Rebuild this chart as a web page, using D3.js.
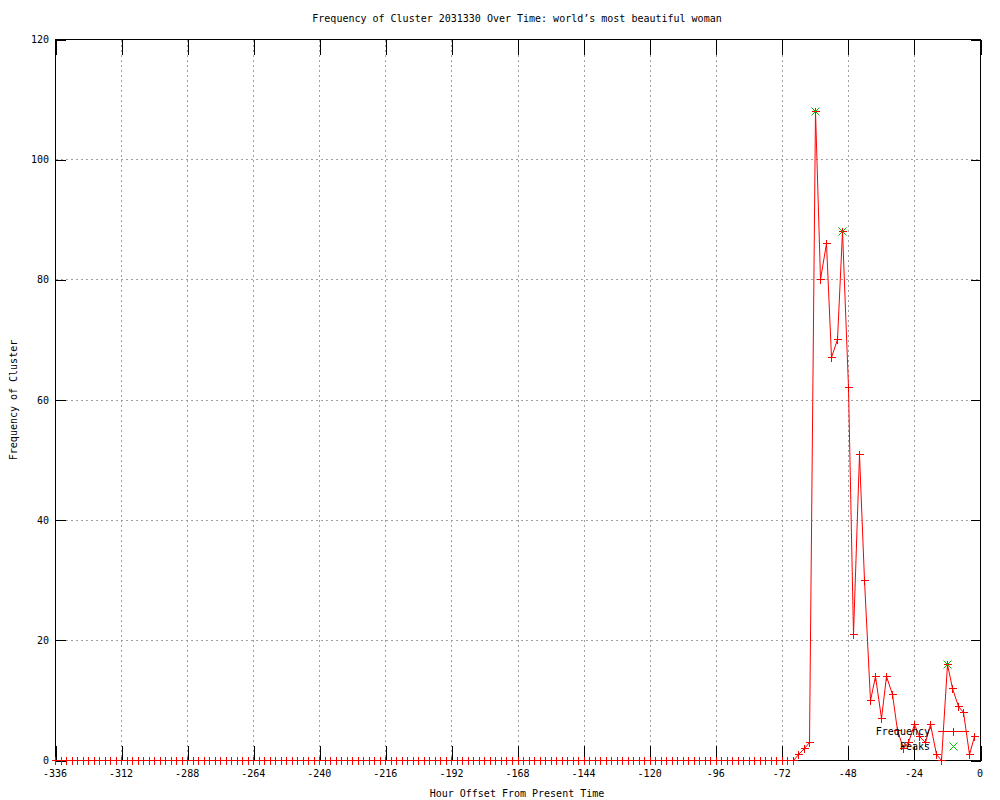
<!DOCTYPE html>
<html>
<head>
<meta charset="utf-8">
<script src="https://cdn.jsdelivr.net/npm/d3@7"></script>
<style>
  body { margin: 0; background: #fff; }
  text { font-family: "DejaVu Sans Mono", "Liberation Mono", monospace; font-size: 10px; fill: #000; }
  line, rect { shape-rendering: crispEdges; }
</style>
</head>
<body>
<div id="chart"></div>
<script>
// hour offsets, one sample every 2 hours
var hours = [
  -336, -334, -332, -330, -328, -326, -324, -322, -320, -318, -316, -314,
  -312, -310, -308, -306, -304, -302, -300, -298, -296, -294, -292, -290,
  -288, -286, -284, -282, -280, -278, -276, -274, -272, -270, -268, -266,
  -264, -262, -260, -258, -256, -254, -252, -250, -248, -246, -244, -242,
  -240, -238, -236, -234, -232, -230, -228, -226, -224, -222, -220, -218,
  -216, -214, -212, -210, -208, -206, -204, -202, -200, -198, -196, -194,
  -192, -190, -188, -186, -184, -182, -180, -178, -176, -174, -172, -170,
  -168, -166, -164, -162, -160, -158, -156, -154, -152, -150, -148, -146,
  -144, -142, -140, -138, -136, -134, -132, -130, -128, -126, -124, -122,
  -120, -118, -116, -114, -112, -110, -108, -106, -104, -102, -100, -98,
  -96, -94, -92, -90, -88, -86, -84, -82, -80, -78, -76, -74,
  -72, -70, -68, -66, -64, -62, -60, -58, -56, -54, -52, -50,
  -48, -46, -44, -42, -40, -38, -36, -34, -32, -30, -28, -26,
  -24, -22, -20, -18, -16, -14, -12, -10, -8, -6, -4, -2
];
var frequency = [
  0, 0, 0, 0, 0, 0, 0, 0, 0, 0, 0, 0, 0, 0, 0,
  0, 0, 0, 0, 0, 0, 0, 0, 0, 0, 0, 0, 0, 0, 0,
  0, 0, 0, 0, 0, 0, 0, 0, 0, 0, 0, 0, 0, 0, 0,
  0, 0, 0, 0, 0, 0, 0, 0, 0, 0, 0, 0, 0, 0, 0,
  0, 0, 0, 0, 0, 0, 0, 0, 0, 0, 0, 0, 0, 0, 0,
  0, 0, 0, 0, 0, 0, 0, 0, 0, 0, 0, 0, 0, 0, 0,
  0, 0, 0, 0, 0, 0, 0, 0, 0, 0, 0, 0, 0, 0, 0,
  0, 0, 0, 0, 0, 0, 0, 0, 0, 0, 0, 0, 0, 0, 0,
  0, 0, 0, 0, 0, 0, 0, 0, 0, 0, 0, 0, 0, 0, 0,
  1, 2, 3, 108, 80, 86, 67, 70, 88, 62, 21, 51, 30,
  10, 14, 7, 14, 11, 5, 2, 3, 6, 4, 3, 6, 1, 0,
  16, 12, 9, 8, 1, 4
];
var peakHours = [-60, -50, -12];
var peakValues = [108, 88, 16];
var xTicks = [-336, -312, -288, -264, -240, -216, -192, -168, -144, -120, -96, -72, -48, -24, 0];
var yTicks = [0, 20, 40, 60, 80, 100, 120];

var width = 1000, height = 800;
var plotL = 55, plotR = 980, plotT = 39, plotB = 760;

var svg = d3.select("#chart").append("svg")
  .attr("width", width)
  .attr("height", height);

var x = d3.scaleLinear().domain([-336, 0]).range([plotL, plotR]);
var y = d3.scaleLinear().domain([0, 120]).range([plotB, plotT]);

var g = svg.append("g").attr("transform", "translate(0.5,0.5)");

// grid
g.selectAll(".vgrid").data(xTicks.slice(1, -1)).enter().append("line")
  .attr("x1", d => Math.round(x(d))).attr("x2", d => Math.round(x(d)))
  .attr("y1", plotT).attr("y2", plotB)
  .attr("stroke", "#a0a0a0").attr("stroke-dasharray", "2,3");
g.selectAll(".hgrid").data(yTicks.slice(1, -1)).enter().append("line")
  .attr("x1", plotL).attr("x2", plotR)
  .attr("y1", d => Math.round(y(d))).attr("y2", d => Math.round(y(d)))
  .attr("stroke", "#a0a0a0").attr("stroke-dasharray", "2,3");

// axes with inward ticks, mirrored
g.append("g").attr("transform", "translate(0," + plotB + ")")
  .call(d3.axisTop(x).tickValues(xTicks).tickSize(15).tickFormat(""));
g.append("g").attr("transform", "translate(0," + plotT + ")")
  .call(d3.axisBottom(x).tickValues(xTicks).tickSize(15).tickFormat(""));
g.append("g").attr("transform", "translate(" + plotL + ",0)")
  .call(d3.axisRight(y).tickValues(yTicks).tickSize(10).tickFormat(""));
g.append("g").attr("transform", "translate(" + plotR + ",0)")
  .call(d3.axisLeft(y).tickValues(yTicks).tickSize(10).tickFormat(""));
g.selectAll(".domain").remove();
g.selectAll(".tick line").attr("stroke", "#000");

g.append("rect")
  .attr("x", plotL).attr("y", plotT)
  .attr("width", plotR - plotL).attr("height", plotB - plotT)
  .attr("fill", "none").attr("stroke", "#000");

// tick labels
svg.selectAll(".xlab").data(xTicks).enter().append("text")
  .attr("x", d => x(d)).attr("y", 777)
  .attr("text-anchor", "middle")
  .text(d => d);
svg.selectAll(".ylab").data(yTicks).enter().append("text")
  .attr("x", 49).attr("y", d => y(d) + 4)
  .attr("text-anchor", "end")
  .text(d => d);

// titles
svg.append("text").attr("x", 517).attr("y", 22).attr("text-anchor", "middle")
  .text("Frequency of Cluster 2031330 Over Time: world\u2019s most beautiful woman");
svg.append("text").attr("x", 517).attr("y", 797).attr("text-anchor", "middle")
  .text("Hour Offset From Present Time");
svg.append("text").attr("transform", "translate(17,400) rotate(-90)")
  .attr("text-anchor", "middle")
  .text("Frequency of Cluster");

// frequency line
var pts = hours.map((h, i) => [h, frequency[i]]);
var line = d3.line().x(d => Math.round(x(d[0]))).y(d => Math.round(y(d[1])));
g.append("path").datum(pts)
  .attr("d", line)
  .attr("fill", "none").attr("stroke", "#ff0000").attr("stroke-width", 1);

function plus(sel, cx, cy, col) {
  sel.append("path")
    .attr("d", "M" + (cx - 4) + "," + cy + "H" + (cx + 4) + "M" + cx + "," + (cy - 4) + "V" + (cy + 4))
    .attr("stroke", col).attr("fill", "none")
    .style("shape-rendering", "crispEdges");
}
function cross(sel, cx, cy, col) {
  sel.append("path")
    .attr("d", "M" + (cx - 4) + "," + (cy - 4) + "L" + (cx + 4) + "," + (cy + 4) +
               "M" + (cx - 4) + "," + (cy + 4) + "L" + (cx + 4) + "," + (cy - 4))
    .attr("stroke", col).attr("fill", "none");
}

var marks = g.append("g");
pts.forEach(d => plus(marks, Math.round(x(d[0])), Math.round(y(d[1])), "#ff0000"));

var peaks = g.append("g");
peakHours.forEach((h, i) => cross(peaks, Math.round(x(h)), Math.round(y(peakValues[i])), "#00c000"));

// legend
svg.append("text").attr("x", 930).attr("y", 735).attr("text-anchor", "end").text("Frequency");
svg.append("text").attr("x", 930).attr("y", 750).attr("text-anchor", "end").text("Peaks");
g.append("line").attr("x1", 937).attr("x2", 968).attr("y1", 731).attr("y2", 731)
  .attr("stroke", "#ff0000");
plus(g, 953, 731, "#ff0000");
cross(g, 953, 746, "#00c000");
</script>
</body>
</html>
